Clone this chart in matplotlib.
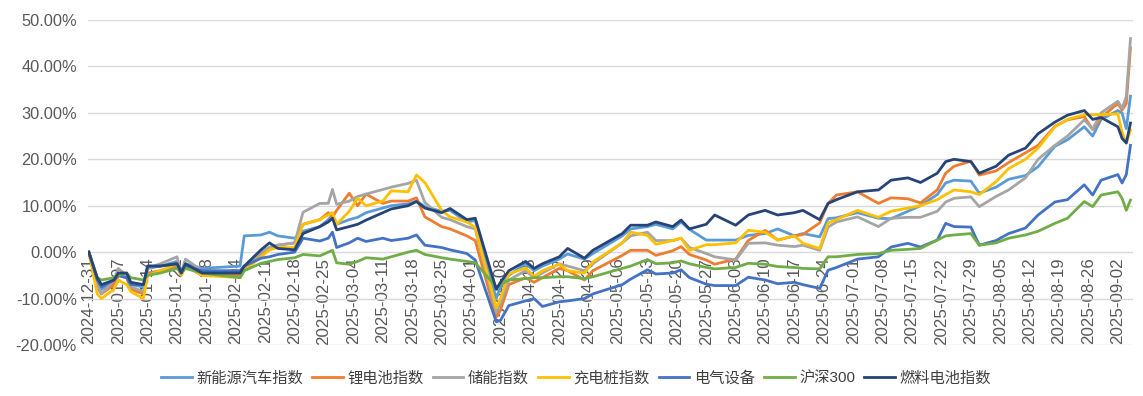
import matplotlib
matplotlib.use("Agg")
import matplotlib.pyplot as plt
import matplotlib.dates as mdates
from matplotlib.ticker import FuncFormatter, MultipleLocator
import pandas as pd

plt.rcParams['font.family'] = ['Liberation Sans', 'Noto Sans CJK SC']

# trading days sampled from the chart (values in %)
dates = [
    "2024-12-31", "2025-01-02", "2025-01-03", "2025-01-06", "2025-01-07", "2025-01-09", "2025-01-10", "2025-01-13", "2025-01-14", "2025-01-17",
    "2025-01-21", "2025-01-22", "2025-01-23", "2025-01-27", "2025-02-05", "2025-02-06", "2025-02-10", "2025-02-12", "2025-02-14", "2025-02-18",
    "2025-02-20", "2025-02-24", "2025-02-26", "2025-02-27", "2025-02-28", "2025-03-03", "2025-03-05", "2025-03-07", "2025-03-11", "2025-03-13",
    "2025-03-17", "2025-03-19", "2025-03-21", "2025-03-25", "2025-03-27", "2025-03-31", "2025-04-02", "2025-04-07", "2025-04-08", "2025-04-10",
    "2025-04-14", "2025-04-16", "2025-04-18", "2025-04-22", "2025-04-24", "2025-04-28", "2025-04-30", "2025-05-07", "2025-05-09", "2025-05-13",
    "2025-05-15", "2025-05-19", "2025-05-21", "2025-05-23", "2025-05-27", "2025-05-29", "2025-06-03", "2025-06-06", "2025-06-10", "2025-06-13",
    "2025-06-17", "2025-06-19", "2025-06-23", "2025-06-25", "2025-06-27", "2025-07-02", "2025-07-07", "2025-07-10", "2025-07-14", "2025-07-17",
    "2025-07-21", "2025-07-23", "2025-07-25", "2025-07-29", "2025-07-31", "2025-08-04", "2025-08-07", "2025-08-11", "2025-08-14", "2025-08-18",
    "2025-08-21", "2025-08-25", "2025-08-27", "2025-08-29", "2025-09-02", "2025-09-03", "2025-09-04", "2025-09-05",
]

nev = [
    0, -6.5, -8, -6.5, -5, -5.5, -7, -7.5, -3.5, -3,
    -2, -4, -2.5, -3.5, -3, 3.5, 3.7, 4.3, 3.5, 3,
    4.5, 5.5, 7, 8, 6, 7, 7.5, 8.5, 9.5, 10,
    10.4, 11, 9.8, 8.8, 9, 6.5, 6.8, -10, -7.5, -5,
    -2.5, -4, -3, -1.5, -0.4, -1.5, -0.3, 3.5, 5, 5.5,
    6, 5, 6.5, 4.9, 2.6, 2.6, 2.6, 3.6, 4, 5,
    3.5, 4, 3.3, 7.2, 7.4, 8.5, 7.3, 7.2, 8.8, 10,
    12.4, 14.9, 15.5, 15.3, 12.7, 14, 15.7, 16.5, 18.4, 22.8,
    24.2, 27, 25, 28.6, 30.5, 30, 26.6, 33.6,
]
lithium = [
    0, -7.5, -9, -7, -5, -5.5, -8, -9, -4.5, -4,
    -3, -5, -3, -5, -5, -3.5, -0.5, 1, 1.5, 2,
    6, 7, 8.5, 7.5, 9, 12.7, 10, 12.5, 10.5, 11,
    11, 11.7, 7.6, 5.5, 5, 3.5, 2.5, -14, -12.5, -7,
    -5.5, -6.5, -5.5, -3.5, -4, -6, -4, -0.7, 0.4, 0.4,
    -0.7, 0.3, 1.2, -0.5, -1.7, -2.6, -1.5, 2.5, 4.7, 2.6,
    3.5, 3.8, 6.3, 10.5, 12.3, 13, 10.5, 11.7, 11.5, 10.6,
    13.4, 17, 18.5, 19.6, 16.6, 17.5, 19.3, 21.4, 23, 27.1,
    28.5, 29.2, 26.4, 29, 32, 30.6, 32, 44,
]
storage = [
    0, -7, -9, -6, -3.5, -5, -7.5, -8.5, -3.5, -2.5,
    -1, -4.5, -1.5, -4, -4.5, -3.5, 0, 1, 1.5, 2,
    8.6, 10.5, 10.5, 13.5, 10.3, 11, 12, 12.5, 13.5, 14,
    14.8, 15.5, 10.7, 7.5, 7, 5.5, 5, -13, -11, -6,
    -4, -5.5, -4.5, -2.5, -3, -4, -2.5, 2, 3.5, 4.3,
    2.5, 2.5, 3, 1, -0.3, -1, -1.7, 1.9, 2, 1.5,
    1.2, 1.5, 0.4, 5.4, 6.5, 7.6, 5.5, 7.3, 7.5, 7.5,
    8.8, 10.8, 11.6, 11.9, 9.8, 12, 13.4, 16, 20, 23,
    25, 28.5, 26.5, 30, 32.5, 31, 33.5, 46,
]
charging = [
    0, -9, -10, -8, -6, -7, -8.5, -10, -5, -4,
    -2.5, -5, -3, -5, -5.5, -4, -1, 0.5, 1, 1,
    6, 7, 8, 8.5, 6, 8.8, 11.6, 10, 11, 13.2,
    13, 16.6, 15, 9, 7.6, 6.5, 5.3, -12, -10, -4.7,
    -3.4, -5.2, -4, -2.6, -4, -4.5, -2.1, 2, 4.3, 3.6,
    1.7, 2.5, 3, 0.4, 1.6, 1.6, 2, 4.7, 4.3, 2.6,
    3.5, 1.9, 0.8, 6.3, 7, 9, 7.5, 8.8, 9.5, 10,
    11.3, 12.4, 13.4, 13, 12.4, 15.2, 18, 20, 22.4, 27,
    28.6, 29.6, 29.6, 29.6, 29.8, 25.8, 23.5, 26.3,
]
electric = [
    0, -6, -7.5, -6, -5, -5.5, -7, -7, -3, -3,
    -2.5, -4, -3, -4, -4, -3, -1.3, -1, -0.5, 0,
    3, 2.4, 3, 4.3, 1, 2, 3, 2.3, 3, 2.5,
    3, 3.7, 1.5, 1, 0.5, -0.3, -1.7, -15, -14.7, -11.5,
    -10.5, -10, -11.7, -10.7, -10.5, -10, -9, -7, -5.8, -3.8,
    -4.7, -4.5, -3.8, -5.5, -6.9, -7.2, -7.2, -5.4, -6, -6.8,
    -6.5, -7, -7.8, -3.9, -3.3, -1.5, -1, 1.1, 1.9, 1.1,
    2.6, 6.2, 5.5, 5.4, 1.5, 2.5, 4, 5.2, 8, 10.8,
    11.3, 14.5, 12.3, 15.5, 16.7, 14.9, 16.7, 23,
]
hs300 = [
    0, -5.5, -6, -5.5, -5, -4.5, -5.5, -6, -5, -4.5,
    -3.5, -4.5, -3.5, -4.5, -5.5, -4, -2.4, -2, -1.6, -1.2,
    -0.5, -0.8, 0, 0.4, -2.3, -2.6, -2, -1.2, -1.5, -1,
    0, 0.4, -0.5, -1.2, -1.5, -2, -2.3, -7.5, -7, -6,
    -5.7, -5.5, -5.5, -5.3, -5.3, -5.7, -5.3, -3.5, -3, -1.6,
    -2.5, -2.3, -1.9, -2.5, -3.3, -3.6, -3.3, -2.4, -2.6, -3.1,
    -3.3, -3.5, -3.6, -1, -1, -0.5, -0.3, 0.4, 0.6, 0.8,
    2.6, 3.5, 3.7, 4, 1.5, 2, 3, 3.7, 4.5, 6.2,
    7.3, 10.9, 9.8, 12.3, 13, 11.6, 9, 11.2,
]
fuelcell = [
    0, -5.5, -7, -6, -4.5, -4.5, -6.5, -7, -3, -3,
    -2.5, -4.5, -2.5, -4.5, -4.5, -3, 0.5, 2, 0.8, 0.5,
    4, 5.5, 6.5, 7.3, 4.8, 5.5, 6, 6.9, 8.5, 9.3,
    10, 10.9, 9.5, 8.5, 9.4, 7, 7.3, -8, -6.5, -4,
    -2, -3.5, -2.5, -1, 0.8, -1.3, 0.4, 4, 5.8, 5.8,
    6.5, 5.5, 6.9, 5, 6, 8, 5.8, 8, 9, 8,
    8.5, 9, 7, 10.5, 11.3, 13, 13.4, 15.5, 16, 15,
    17, 19.5, 20, 19.5, 17, 18.5, 20.9, 22.4, 25.5, 28,
    29.5, 30.5, 28.6, 29, 27, 24.5, 23.5, 27.8,
]

names = ["新能源汽车指数", "锂电池指数", "储能指数", "充电桩指数", "电气设备", "沪深300", "燃料电池指数"]
colors = ["#5B9BD5", "#ED7D31", "#A5A5A5", "#FFC000", "#4472C4", "#70AD47", "#264478"]
series = [nev, lithium, storage, charging, electric, hs300, fuelcell]

x = pd.to_datetime(dates)
tick_dates = pd.date_range("2024-12-31", "2025-09-02", freq="7D")

W, H = 1143, 396
fig = plt.figure(figsize=(W / 100, H / 100), dpi=100)
ax = fig.add_axes([88 / W, 1 - 345 / H, (1133 - 88) / W, (345 - 20) / H])

for vals, name, c in zip(series, names, colors):
    ax.plot(x, vals, color=c, lw=2.0, label=name, solid_joinstyle="round")

t0 = mdates.date2num(pd.Timestamp("2024-12-31"))
ax.set_xlim(t0 - 0.2, t0 + 248.6)
ax.set_ylim(-20, 50)
ax.yaxis.set_major_locator(MultipleLocator(10))
ax.yaxis.set_major_formatter(FuncFormatter(lambda v, p: f"{v:.2f}%"))

ax.set_xticks(tick_dates)
ax.set_xticklabels([d.strftime("%Y-%m-%d") for d in tick_dates])

for s in ax.spines.values():
    s.set_visible(False)
ax.spines["bottom"].set_position(("data", 0))

ax.grid(axis="y", color="#D9D9D9", lw=1.0)
ax.set_axisbelow(True)
ax.tick_params(axis="y", length=0, pad=8, labelsize=11.8, labelcolor="#595959")
ax.tick_params(axis="x", length=0, pad=4, labelsize=12.2, labelcolor="#595959",
               labelrotation=90)

fig.legend(loc="center", bbox_to_anchor=(0.504, 0.045), ncol=7, frameon=False,
           fontsize=11, handlelength=2.0, handletextpad=0.3, columnspacing=0.6,
           labelcolor="#404040")

fig.savefig("out.png", dpi=100)
